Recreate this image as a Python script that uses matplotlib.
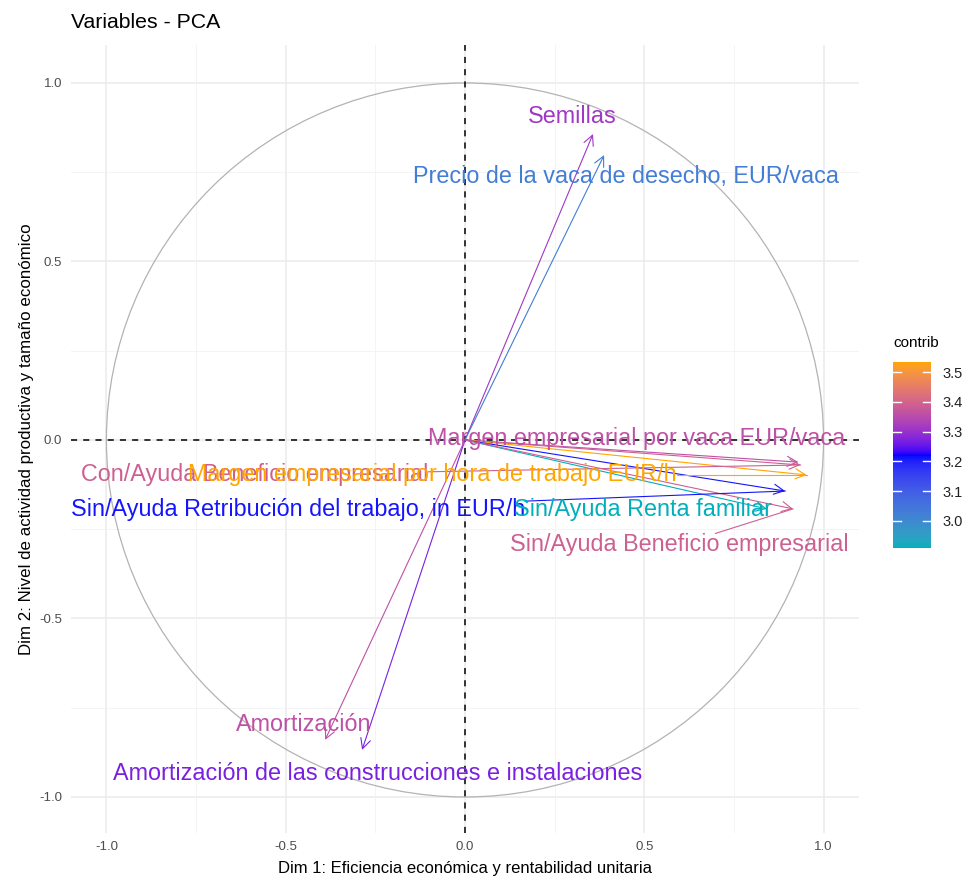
"""PCA variables correlation circle (fviz_pca_var look-alike)."""
import numpy as np
import matplotlib
matplotlib.use("Agg")
import matplotlib.pyplot as plt
import matplotlib.colors as mcolors
from matplotlib.cm import ScalarMappable
from matplotlib.patches import Circle

plt.rcParams["font.family"] = ["Liberation Sans", "DejaVu Sans"]

# variable names, arrow tips (Dim1, Dim2), contribution, label anchors
variables = [
    "Semillas",
    "Precio de la vaca de desecho, EUR/vaca",
    "Margen empresarial por vaca EUR/vaca",
    "Con/Ayuda Beneficio empresarial",
    "Margen empresarial por hora de trabajo EUR/h",
    "Sin/Ayuda Retribución del trabajo, in EUR/h",
    "Sin/Ayuda Renta familiar",
    "Sin/Ayuda Beneficio empresarial",
    "Amortización",
    "Amortización de las construcciones e instalaciones",
]
dim1 = [0.357, 0.388, 0.930, 0.936, 0.953, 0.893, 0.842, 0.915, -0.390, -0.287]
dim2 = [0.857, 0.798, -0.062, -0.070, -0.098, -0.143, -0.193, -0.193, -0.840, -0.868]
contrib = [3.31, 3.03, 3.36, 3.39, 3.534, 3.21, 2.909, 3.39, 3.36, 3.27]
label_x = [0.300, 0.449, 0.480, -0.586, -0.090, -0.466, 0.497, 0.597, -0.450, -0.243]
label_y = [0.905, 0.737, 0.003, -0.098, -0.098, -0.196, -0.196, -0.294, -0.797, -0.933]

grad_cols = ["#00AFBB", "#0000FF", "#FFA500"]
ticks = [-1.0, -0.5, 0.0, 0.5, 1.0]
minor = [-0.75, -0.25, 0.25, 0.75]
cbar_ticks = [3.0, 3.1, 3.2, 3.3, 3.4, 3.5]

_M = np.array([[0.4124564, 0.3575761, 0.1804375],
               [0.2126729, 0.7151522, 0.0721750],
               [0.0193339, 0.1191920, 0.9503041]])
_WHITE = np.array([0.95047, 1.0, 1.08883])


def to_lab(c):
    rgb = np.array(mcolors.to_rgb(c))
    lin = np.where(rgb <= 0.04045, rgb / 12.92, ((rgb + 0.055) / 1.055) ** 2.4)
    t = (_M @ lin) / _WHITE
    f = np.where(t > 0.008856, np.cbrt(t), 7.787 * t + 16 / 116)
    return np.array([116 * f[1] - 16, 500 * (f[0] - f[1]), 200 * (f[1] - f[2])])


def from_lab(lab):
    fy = (lab[0] + 16) / 116
    f = np.array([fy + lab[1] / 500, fy, fy - lab[2] / 200])
    t = np.where(f ** 3 > 0.008856, f ** 3, (f - 16 / 116) / 7.787)
    lin = np.linalg.solve(_M, t * _WHITE)
    lin = np.clip(lin, 0, 1)
    rgb = np.where(lin <= 0.0031308, 12.92 * lin, 1.055 * lin ** (1 / 2.4) - 0.055)
    return np.clip(rgb, 0, 1)


# ggplot-style gradientn (interpolated in Lab space)
labs = [to_lab(c) for c in grad_cols]
samples = []
for v in np.linspace(0, 1, 256):
    seg = min(int(v * 2), 1)
    w = v * 2 - seg
    samples.append(from_lab(labs[seg] * (1 - w) + labs[seg + 1] * w))
cmap = mcolors.ListedColormap(samples)
norm = mcolors.Normalize(min(contrib), max(contrib))

fig = plt.figure(figsize=(9.68, 8.85), dpi=100)
ax = fig.add_axes([0.0729, 0.0591, 0.8149, 0.8903])
ax.set_xlim(-1.1, 1.1)
ax.set_ylim(-1.1, 1.107)
for s in ax.spines.values():
    s.set_visible(False)

for v in ticks:
    ax.axvline(v, color="#EBEBEB", lw=1.1, zorder=0)
    ax.axhline(v, color="#EBEBEB", lw=1.1, zorder=0)
for v in minor:
    ax.axvline(v, color="#F2F2F2", lw=0.6, zorder=0)
    ax.axhline(v, color="#F2F2F2", lw=0.6, zorder=0)

ax.add_patch(Circle((0, 0), 1.0, fill=False, ec="#B3B3B3", lw=0.9, zorder=1))
ax.axhline(0, color="black", lw=1.1, ls=(0, (4, 4)), zorder=2)
ax.axvline(0, color="black", lw=1.1, ls=(0, (4, 4)), zorder=2)

texts = []
for name, x, y, c, lx, ly in zip(variables, dim1, dim2, contrib, label_x, label_y):
    col = cmap(norm(c))
    ax.annotate("", xy=(x, y), xytext=(0, 0),
                arrowprops=dict(arrowstyle="->,head_length=0.6,head_width=0.3",
                                color=col, lw=0.8, mutation_scale=12,
                                shrinkA=0, shrinkB=0), zorder=3)
    t = ax.text(lx, ly, name, color=col, fontsize=16.8, ha="center", va="center", zorder=4)
    texts.append((t, lx, ly, x, y, col))

# repel-style segments: from the label box edge (on the line to the centre) to the tip
fig.canvas.draw()
inv = ax.transData.inverted()
for t, lx, ly, x, y, col in texts:
    bb = t.get_window_extent()
    (x0, y0), (x1, y1) = inv.transform([[bb.x0, bb.y0], [bb.x1, bb.y1]])
    if x0 <= x <= x1 and y0 <= y <= y1:
        continue
    dx, dy = x - lx, y - ly
    cands = []
    if dx:
        cands.append(((x1 if dx > 0 else x0) - lx) / dx)
    if dy:
        cands.append(((y1 if dy > 0 else y0) - ly) / dy)
    s = min(c for c in cands if c > 0)
    sx, sy = lx + s * dx, ly + s * dy
    near = np.hypot(np.clip(x, x0, x1) - x, np.clip(y, y0, y1) - y)
    if near > 0.05:
        ax.plot([sx, x], [sy, y], color=col, lw=0.8, zorder=3)

ax.set_xticks(ticks)
ax.set_yticks(ticks)
ax.tick_params(length=0, labelsize=9.5, labelcolor="#4D4D4D", pad=6)
ax.set_xticklabels([f"{v:.1f}" for v in ticks])
ax.set_yticklabels([f"{v:.1f}" for v in ticks])
ax.set_xlabel("Dim 1: Eficiencia económica y rentabilidad unitaria", fontsize=12, labelpad=6)
ax.set_ylabel("Dim 2: Nivel de actividad productiva y tamaño económico", fontsize=12.2, labelpad=4)
fig.text(0.073, 0.975, "Variables - PCA", fontsize=15.3, ha="left", va="center")

cax = fig.add_axes([893 / 968, 1 - 548 / 885, 38 / 968, 186 / 885])
cb = fig.colorbar(ScalarMappable(norm=norm, cmap=cmap), cax=cax, ticks=cbar_ticks)
cb.outline.set_visible(False)
cax.tick_params(length=0, labelsize=10.5, labelcolor="#222222", pad=8)
for v in cbar_ticks:
    cax.plot([0, 0.2], [v, v], color="white", lw=1, transform=cax.get_yaxis_transform())
    cax.plot([0.8, 1.0], [v, v], color="white", lw=1, transform=cax.get_yaxis_transform())
fig.text(893 / 968, 1 - 343 / 885, "contrib", fontsize=11, ha="left", va="center")

fig.savefig("out.png", dpi=100)
